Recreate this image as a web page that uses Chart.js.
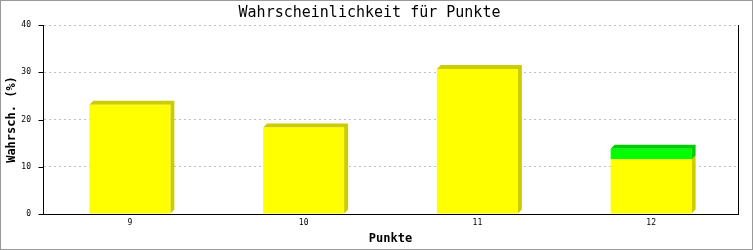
<!DOCTYPE html>
<html>
<head>
<meta charset="utf-8">
<script src="https://cdn.jsdelivr.net/npm/chart.js@4/dist/chart.umd.min.js"></script>
<style>
  html, body { margin: 0; padding: 0; background: #fff; }
  #box { width: 753px; height: 250px; box-sizing: border-box; border: 1px solid #999; }
  canvas { display: block; }
</style>
</head>
<body>
<div id="box"><canvas id="probChart" width="751" height="248"></canvas></div>
<script>
let punkte = ['9', '10', '11', '12'];
let wahrsch = [23.1, 18.3, 30.7, 11.6];
let zusatz = [null, null, null, 2.2];
let yTicks = [0, 10, 20, 30, 40];

const depth = 4;
const mono = 'DejaVu Sans Mono';

// 3D look: darker top + right side behind every bar
const extrude = {
  id: 'extrude',
  beforeDatasetsDraw(chart) {
    const ctx = chart.ctx;
    chart.data.datasets.forEach((ds, i) => {
      const meta = chart.getDatasetMeta(i);
      meta.data.forEach(bar => {
        const p = bar.getProps(['x', 'y', 'base', 'width'], true);
        if (Math.abs(p.base - p.y) < 0.5) return;
        const l = p.x - p.width / 2, r = p.x + p.width / 2;
        const t = Math.min(p.y, p.base), b = Math.max(p.y, p.base);
        ctx.save();
        ctx.fillStyle = ds.sideColor;
        ctx.beginPath();
        ctx.moveTo(l, t);
        ctx.lineTo(l + depth, t - depth);
        ctx.lineTo(r + depth, t - depth);
        ctx.lineTo(r + depth, b - depth);
        ctx.lineTo(r, b);
        ctx.lineTo(r, t);
        ctx.closePath();
        ctx.fill();
        ctx.restore();
      });
    });
  },
  afterDraw(chart) {
    const {ctx, chartArea} = chart;
    const yScale = chart.scales.y;
    const ax = Math.round(chartArea.left) + 0.5;
    ctx.save();
    ctx.strokeStyle = '#000';
    ctx.lineWidth = 1;
    ctx.beginPath();
    // right frame line
    ctx.moveTo(Math.round(chartArea.right) + 0.5, chartArea.top);
    ctx.lineTo(Math.round(chartArea.right) + 0.5, chartArea.bottom);
    // y tick marks
    yTicks.forEach(v => {
      const y = Math.round(yScale.getPixelForValue(v)) + 0.5;
      ctx.moveTo(ax - 5, y);
      ctx.lineTo(ax, y);
    });
    ctx.stroke();
    ctx.restore();
  }
};

new Chart('probChart', {
  type: 'bar',
  data: {
    labels: punkte,
    datasets: [{
      data: wahrsch,
      backgroundColor: '#ffff00',
      sideColor: '#cccc00',
      borderWidth: 0
    }, {
      data: zusatz,
      backgroundColor: '#00ff00',
      sideColor: '#00cc00',
      borderWidth: 0
    }]
  },
  options: {
    responsive: false,
    animation: false,
    barPercentage: 0.466,
    categoryPercentage: 1,
    layout: { padding: { left: 0, right: 14, top: 0, bottom: 0 } },
    plugins: {
      legend: { display: false },
      tooltip: { enabled: false },
      title: {
        display: true,
        text: 'Wahrscheinlichkeit für Punkte',
        color: '#000',
        font: { family: mono, size: 15, weight: 'normal', lineHeight: 1.2 },
        padding: { top: 3, bottom: 3 }
      }
    },
    scales: {
      x: {
        stacked: true,
        grid: { display: false, drawTicks: false },
        border: { color: '#000', width: 1 },
        ticks: { color: '#000', padding: 4, font: { family: mono, size: 8 } },
        title: {
          display: true,
          text: 'Punkte',
          color: '#000',
          font: { family: mono, size: 12, weight: 'bold', lineHeight: 1.2 },
          padding: { top: 0, bottom: 3 }
        },
        afterFit(scale) { scale.height = 35; }
      },
      y: {
        stacked: true,
        min: 0,
        max: 40,
        afterBuildTicks(scale) { scale.ticks = yTicks.map(v => ({ value: v })); },
        grid: {
          color: '#c0c0c0',
          tickColor: 'rgba(0,0,0,0)',
          tickLength: 5
        },
        border: { color: '#000', width: 1, dash: [2, 3] },
        ticks: { color: '#000', padding: 7, font: { family: mono, size: 8 } },
        title: {
          display: true,
          text: 'Wahrsch. (%)',
          color: '#000',
          font: { family: mono, size: 12, weight: 'bold', lineHeight: 1.2 },
          padding: { top: 4, bottom: 0 }
        },
        afterFit(scale) { scale.width = 42; }
      }
    }
  },
  plugins: [extrude]
});
</script>
</body>
</html>
